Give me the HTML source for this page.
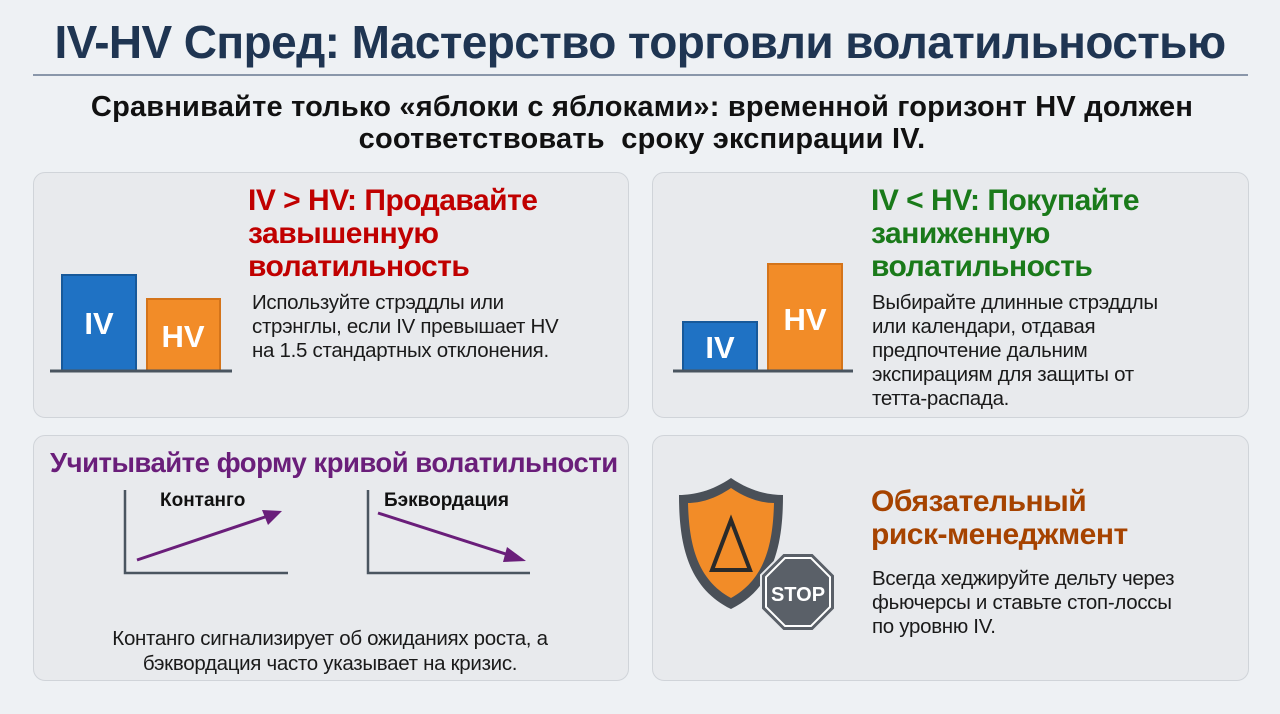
<!DOCTYPE html><html><head><meta charset="utf-8"><style>
body{margin:0;width:1280px;height:714px;background:#eef1f4;font-family:"Liberation Sans",sans-serif;position:relative;overflow:hidden}
.a{position:absolute;white-space:nowrap}
.p{position:absolute;background:#e8eaed;border:1.5px solid #d0d4d9;border-radius:12px}
.h{font-weight:bold;font-size:30px;line-height:33px;letter-spacing:-0.5px}
.b{font-size:20.5px;line-height:24px;color:#1a1a1a;letter-spacing:-0.3px}
</style></head><body>
<div class="a" style="left:0;width:1280px;text-align:center;top:15px;font-size:46px;font-weight:bold;color:#1f3552;letter-spacing:-0.6px">IV-HV Спред: Мастерство торговли волатильностью</div>
<div class="a" style="left:33px;top:74px;width:1215px;height:2px;background:#8a97aa"></div>
<div class="a" style="left:0;width:1284px;text-align:center;top:91px;font-size:29px;line-height:32px;font-weight:bold;color:#111;letter-spacing:0.2px">Сравнивайте только «яблоки с яблоками»: временной горизонт HV должен<br>соответствовать&nbsp; сроку экспирации IV.</div>

<div class="p" style="left:33px;top:172px;width:594px;height:244px"></div>
<div class="p" style="left:652px;top:172px;width:595px;height:244px"></div>
<div class="p" style="left:33px;top:435px;width:594px;height:244px"></div>
<div class="p" style="left:652px;top:435px;width:595px;height:244px"></div>

<div class="a h" style="left:248px;top:184px;color:#c00000">IV &gt; HV: Продавайте<br>завышенную<br>волатильность</div>
<div class="a b" style="left:252px;top:291px">Используйте стрэддлы или<br>стрэнглы, если IV превышает HV<br>на 1.5 стандартных отклонения.</div>
<svg class="a" style="left:0;top:0" width="1280" height="714">
<rect x="62" y="275" width="74" height="96" fill="#1f72c4" stroke="#17599a" stroke-width="2"/>
<rect x="147" y="299" width="73" height="72" fill="#f28c28" stroke="#d4741a" stroke-width="2"/>
<line x1="50" y1="371" x2="232" y2="371" stroke="#4a5560" stroke-width="3"/>
<text x="99" y="334" font-size="31" font-weight="bold" fill="#fff" text-anchor="middle" font-family="Liberation Sans">IV</text>
<text x="183" y="347" font-size="31" font-weight="bold" fill="#fff" text-anchor="middle" font-family="Liberation Sans">HV</text>
<rect x="683" y="322" width="74" height="49" fill="#1f72c4" stroke="#17599a" stroke-width="2"/>
<rect x="768" y="264" width="74" height="107" fill="#f28c28" stroke="#d4741a" stroke-width="2"/>
<line x1="673" y1="371" x2="853" y2="371" stroke="#4a5560" stroke-width="3"/>
<text x="720" y="358" font-size="31" font-weight="bold" fill="#fff" text-anchor="middle" font-family="Liberation Sans">IV</text>
<text x="805" y="330" font-size="31" font-weight="bold" fill="#fff" text-anchor="middle" font-family="Liberation Sans">HV</text>
<polyline points="125,490 125,573 288,573" fill="none" stroke="#4a5560" stroke-width="2.5"/>
<polyline points="368,490 368,573 530,573" fill="none" stroke="#4a5560" stroke-width="2.5"/>
<line x1="137" y1="560" x2="268" y2="516" stroke="#6a1e7a" stroke-width="3"/>
<polygon points="282,511 262,510 268,525" fill="#6a1e7a"/>
<line x1="378" y1="513" x2="512" y2="556" stroke="#6a1e7a" stroke-width="3"/>
<polygon points="526,561 507,547 503,562" fill="#6a1e7a"/>
<path d="M731,478 C750,491 768,495 783,495 C783,540 776,587 731,609 C686,587 679,540 679,495 C694,495 712,491 731,478Z" fill="#4a5058"/>
<path d="M731,488 C747,499 762,503 774,503 C773,542 766,579 731,598 C696,579 689,542 688,503 C700,503 715,499 731,488Z" fill="#f28c28"/>
<polygon points="731,520 712,570 750,570" fill="none" stroke="#2a2a2a" stroke-width="4"/>
<polygon points="783,553 813,553 835,575 835,609 813,631 783,631 761,609 761,575" fill="#5a6068" stroke="#e8eaed" stroke-width="2"/>
<polygon points="785,558 811,558 830,577 830,607 811,626 785,626 766,607 766,577" fill="none" stroke="#fff" stroke-width="2"/>
<text x="798" y="601" font-size="20" font-weight="bold" fill="#fff" text-anchor="middle" font-family="Liberation Sans">STOP</text>
</svg>
<div class="a h" style="left:871px;top:184px;color:#1a7a1a">IV &lt; HV: Покупайте<br>заниженную<br>волатильность</div>
<div class="a b" style="left:872px;top:291px">Выбирайте длинные стрэддлы<br>или календари, отдавая<br>предпочтение дальним<br>экспирациям для защиты от<br>тетта-распада.</div>
<div class="a" style="left:50px;top:447px;font-size:27.5px;font-weight:bold;color:#6a1e7a;letter-spacing:-0.5px">Учитывайте форму кривой волатильности</div>
<div class="a" style="left:160px;top:490px;font-size:19px;font-weight:bold;color:#111">Контанго</div>
<div class="a" style="left:384px;top:490px;font-size:19px;font-weight:bold;color:#111">Бэквордация</div>
<div class="a b" style="left:33px;width:594px;text-align:center;top:626px;line-height:25px">Контанго сигнализирует об ожиданиях роста, а<br>бэквордация часто указывает на кризис.</div>
<div class="a h" style="left:871px;top:485px;color:#a64300">Обязательный<br>риск-менеджмент</div>
<div class="a b" style="left:872px;top:567px">Всегда хеджируйте дельту через<br>фьючерсы и ставьте стоп-лоссы<br>по уровню IV.</div>
</body></html>
